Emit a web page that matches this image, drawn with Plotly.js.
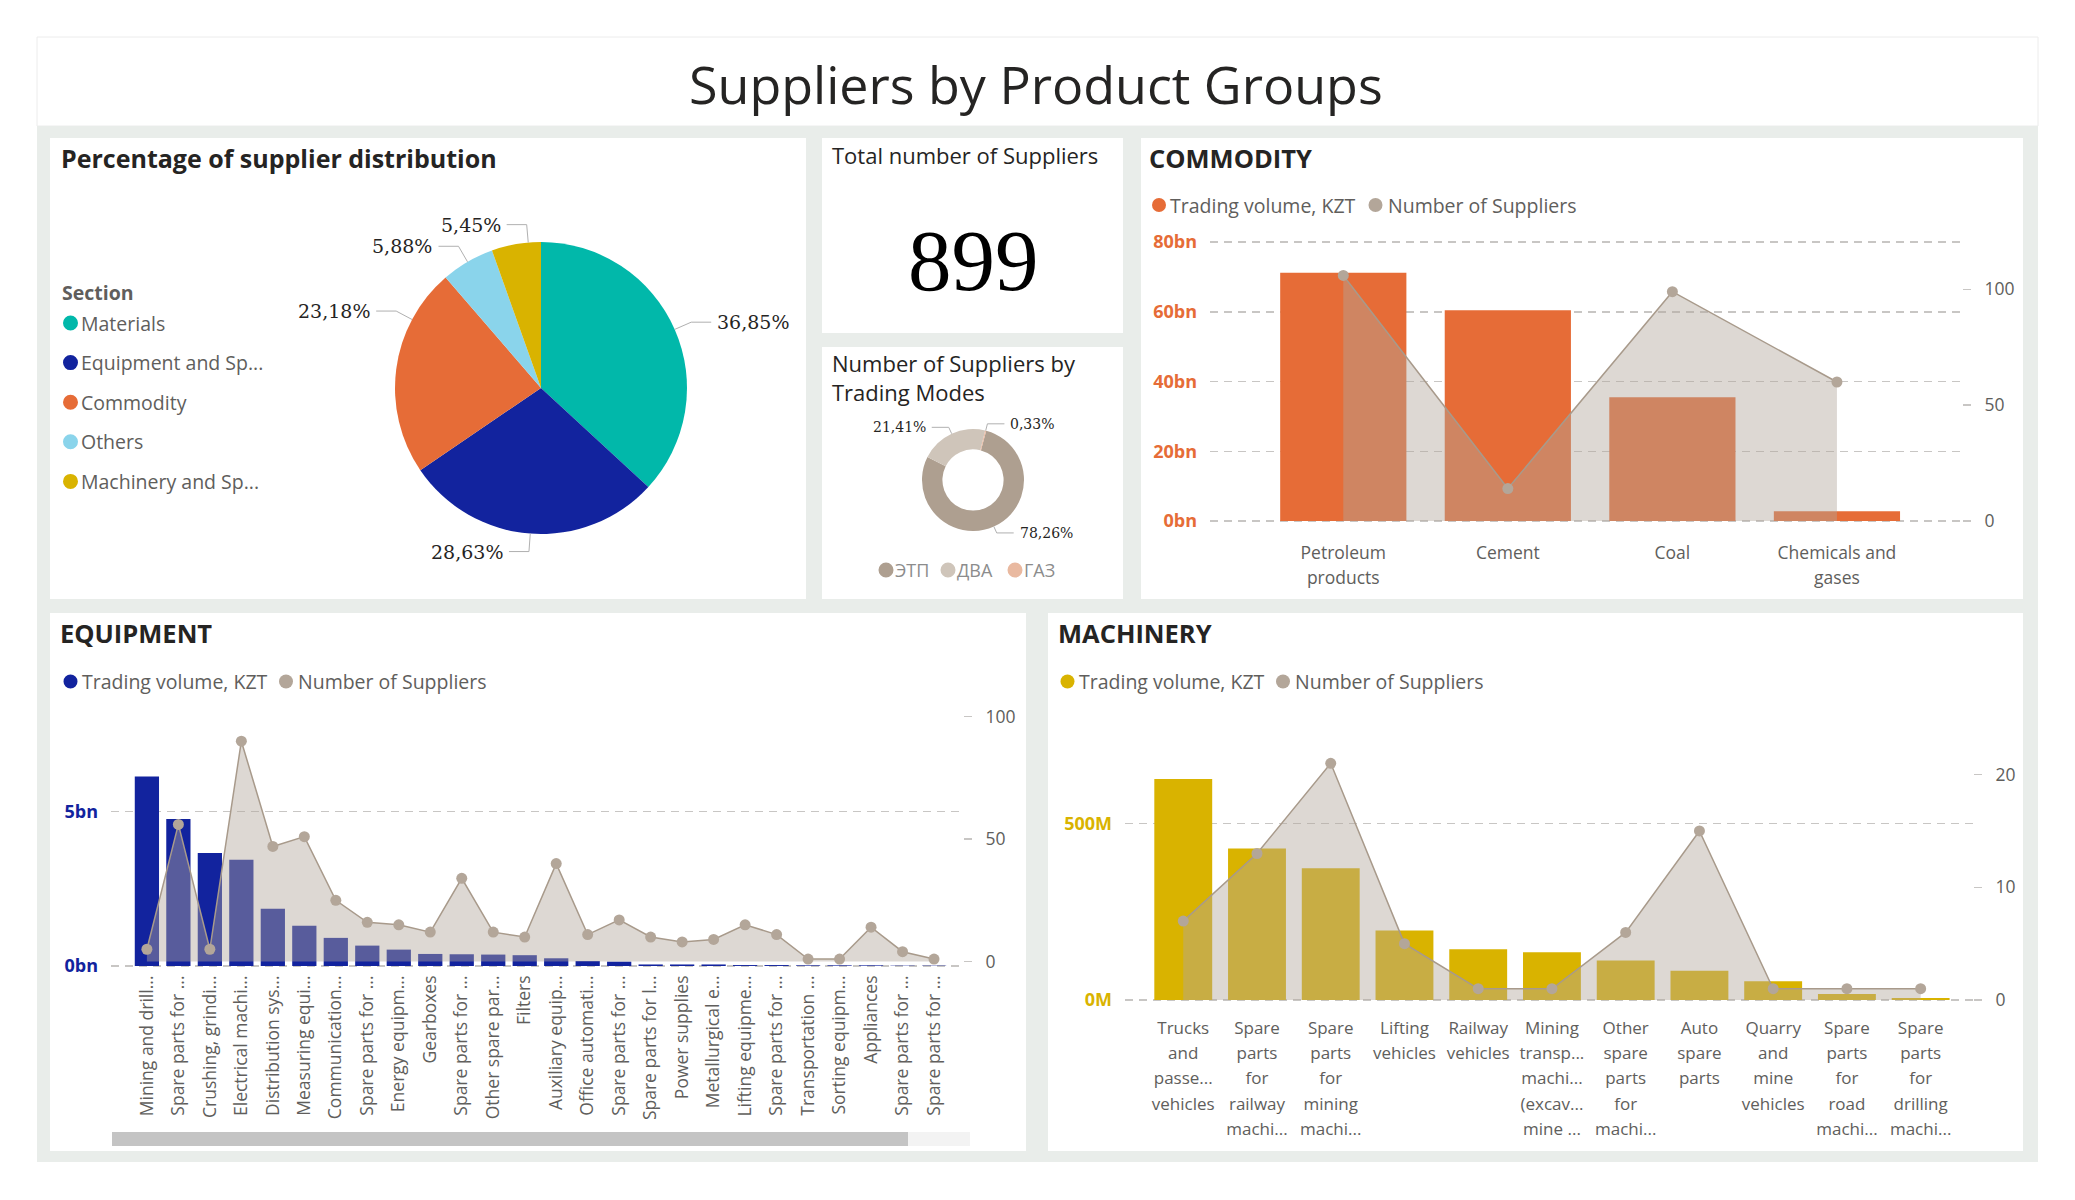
<!DOCTYPE html>
<html><head><meta charset="utf-8">
<script src="https://cdn.plot.ly/plotly-3.0.1.min.js"></script>
<style>html,body{margin:0;padding:0;background:#fff;overflow:hidden}#chart{width:2075px;height:1200px}</style>
</head><body><div id="chart"></div>
<script>
// ---------------- DATA ----------------
const pageTitle = 'Suppliers by Product Groups';
const sectionLabels = ['Materials', 'Equipment and Sp...', 'Commodity', 'Others', 'Machinery and Sp...'];
const sectionShares = [36.85, 28.63, 23.18, 5.88, 5.45];
const totalSuppliers = 899;
const modeLabels = ['ЭТП', 'ДВА', 'ГАЗ'];
const modeShares = [78.26, 21.41, 0.33];
const seriesNames = ['Trading volume, KZT', 'Number of Suppliers'];

const commodityCats = ['Petroleum<br>products', 'Cement', 'Coal', 'Chemicals and<br>gases'];
const commodityVolumeBn = [71.2, 60.4, 35.5, 2.8];
const commoditySuppliers = [106, 14, 99, 60];

const equipmentCats = ['Mining and drill...', 'Spare parts for ...', 'Crushing, grindi...', 'Electrical machi...',
  'Distribution sys...', 'Measuring equi...', 'Communication...', 'Spare parts for ...', 'Energy equipm...',
  'Gearboxes', 'Spare parts for ...', 'Other spare par...', 'Filters', 'Auxiliary equip...', 'Office automati...',
  'Spare parts for ...', 'Spare parts for l...', 'Power supplies', 'Metallurgical e...', 'Lifting equipme...',
  'Spare parts for ...', 'Transportation ...', 'Sorting equipm...', 'Appliances', 'Spare parts for ...',
  'Spare parts for ...'];
const equipmentVolumeBn = [6.13, 4.76, 3.66, 3.44, 1.85, 1.30, 0.91, 0.66, 0.53, 0.39, 0.38, 0.37, 0.35,
  0.25, 0.16, 0.14, 0.05, 0.05, 0.05, 0.03, 0.03, 0.02, 0.02, 0.02, 0.01, 0.01];
const equipmentSuppliers = [5, 56, 5, 90, 47, 51, 25, 16, 15, 12, 34, 12, 10, 40, 11, 17, 10, 8, 9, 15, 11,
  1, 1, 14, 4, 1];

const machineryCats = ['Trucks<br>and<br>passe...<br>vehicles', 'Spare<br>parts<br>for<br>railway<br>machi...',
  'Spare<br>parts<br>for<br>mining<br>machi...', 'Lifting<br>vehicles', 'Railway<br>vehicles',
  'Mining<br>transp...<br>machi...<br>(excav...<br>mine ...', 'Other<br>spare<br>parts<br>for<br>machi...',
  'Auto<br>spare<br>parts', 'Quarry<br>and<br>mine<br>vehicles', 'Spare<br>parts<br>for<br>road<br>machi...',
  'Spare<br>parts<br>for<br>drilling<br>machi...'];
const machineryVolumeM = [626, 429, 373, 197, 144, 135, 112, 83, 53, 17, 6];
const machinerySuppliers = [7, 13, 21, 5, 1, 1, 6, 15, 1, 1, 1];

// ---------------- STYLE ----------------
const W = 2075, H = 1200;
const FONT = 'Open Sans, Noto Sans, sans-serif';
const DARK = '#252423', GRAY = '#605E5C';
const sectionColors = ['#01B8AA', '#12239E', '#E66C37', '#8AD4EB', '#D9B300'];
const modeColors = ['#AE9F90', '#CFC5BA', '#E9B9A0'];
const supFill = 'rgba(178,166,155,0.44)', supLine = '#A89A8B', supMarker = '#B3A699';
const gridC = '#C8C6C4';
// callout placement nudges (degrees) to mimic the reference label layout
const pieLabelNudge = [0, 0, 20.5, 0, 4.8];
const donutLabelNudge = [0, 0, 0];

const px = v => v / W, py = v => 1 - v / H;
const pct = v => v.toFixed(2).replace('.', ',') + '%';
const idx = a => a.map((_, i) => i);
// wrap each line in a smaller span so the line pitch (set by the outer font) is wider
const spaced = (cats, size) => cats.map(c => c.split('<br>').map(l => `<span style="font-size:${size}px">${l}</span>`).join('<br>'));

const shapes = [], annotations = [];
function rect(x0, y0, x1, y1, fill, line) {
  shapes.push({type: 'rect', xref: 'paper', yref: 'paper', layer: 'below', x0: px(x0), x1: px(x1), y0: py(y1), y1: py(y0),
    fillcolor: fill, line: line ? {color: line, width: 1} : {width: 0}});
}
function text(x, y, t, size, color, opts) {
  annotations.push(Object.assign({xref: 'paper', yref: 'paper', x: px(x), y: py(y), text: t, showarrow: false,
    xanchor: 'left', yanchor: 'middle', font: {family: FONT, size: size, color: color}}, opts || {}));
}
function legendItem(cx, tx, y, d, color, label, size, fcolor) {
  shapes.push({type: 'circle', xref: 'paper', yref: 'paper', x0: px(cx - d / 2), x1: px(cx + d / 2),
    y0: py(y + d / 2), y1: py(y - d / 2), fillcolor: color, line: {width: 0}});
  text(tx, y, label, size, fcolor);
}

// backgrounds
rect(37, 37, 2038, 126, '#FFFFFF', '#ECECEC');
rect(37, 126, 2038, 1162, '#E9EDEA');
rect(50, 138, 806, 599, '#FFFFFF');
rect(822, 138, 1123, 333, '#FFFFFF');
rect(822, 347, 1123, 599, '#FFFFFF');
rect(1141, 138, 2023, 599, '#FFFFFF');
rect(50, 613, 1026, 1151, '#FFFFFF');
rect(1048, 613, 2023, 1151, '#FFFFFF');
// scrollbar of equipment chart
rect(908, 1132, 970, 1146, '#F3F3F3');
rect(112, 1132, 908, 1146, '#C4C4C4');

// titles
text(1036, 83, pageTitle, 52, DARK, {xanchor: 'center'});
text(59, 158, '<b>Percentage of supplier distribution</b>', 25, DARK);
text(830, 155, 'Total number of Suppliers', 22, DARK);
text(973, 260, String(totalSuppliers), 87, '#000', {xanchor: 'center', font: {family: 'Liberation Serif, serif', size: 87, color: '#000'}});
text(830, 377, 'Number of Suppliers by<br>Trading Modes', 22, DARK, {align: 'left'});
text(1147, 158, '<b>COMMODITY</b>', 25.5, DARK);
text(58, 633, '<b>EQUIPMENT</b>', 25.5, DARK);
text(1056, 633, '<b>MACHINERY</b>', 25.5, DARK);

// section legend
text(60, 292, '<b>Section</b>', 19.5, GRAY);
sectionLabels.forEach((l, i) => legendItem(70.5, 78.5, 323 + i * 39.6, 15, sectionColors[i], l, 19.5, GRAY));
// trading modes legend
const modeDotX = [886, 948, 1015];
modeLabels.forEach((l, i) => legendItem(modeDotX[i], modeDotX[i] + 7, 570, 15, modeColors[i], l, 18, '#8C8C8C'));
// series legends
function seriesLegend(x1, x2, y, color) {
  legendItem(x1, x1 + 9, y, 14, color, seriesNames[0], 19.5, GRAY);
  legendItem(x2, x2 + 10, y, 14, supMarker, seriesNames[1], 19.5, GRAY);
}
seriesLegend(1159, 1375.5, 205, '#E66C37');
seriesLegend(70.5, 286, 681.5, '#12239E');
seriesLegend(1067.5, 1283, 681.5, '#D9B300');

// pie callouts computed from the data
function callouts(shares, nudge, cx, cy, r, startDeg, radial, horiz, font) {
  const total = shares.reduce((a, b) => a + b, 0);
  let acc = 0;
  shares.forEach((v, i) => {
    const mid = startDeg + (acc + v / 2) / total * 360 + nudge[i]; acc += v;
    const t = mid * Math.PI / 180, sx = Math.sin(t), sy = -Math.cos(t);
    const ex = cx + r * sx, ey = cy + r * sy, qx0 = cx + (r + radial) * sx, qy = cy + (r + radial) * sy;
    const right = sx >= 0, qx = qx0 + (right ? horiz : -horiz);
    shapes.push({type: 'path', xref: 'paper', yref: 'paper', line: {color: '#B0B0B0', width: 1},
      path: `M ${px(ex)} ${py(ey)} L ${px(qx0)} ${py(qy)} L ${px(qx)} ${py(qy)}`});
    annotations.push({xref: 'paper', yref: 'paper', x: px(qx + (right ? 4 : -4)), y: py(qy), text: pct(v), showarrow: false,
      xanchor: right ? 'left' : 'right', yanchor: 'middle', font: font});
  });
}
const pieC = {x: 541, y: 388, r: 146};
const donutC = {x: 973, y: 480, r: 51};
callouts(sectionShares, pieLabelNudge, pieC.x, pieC.y, pieC.r, 0, 18, 20, {family: 'DejaVu Serif, serif', size: 19, color: DARK});
callouts(modeShares, donutLabelNudge, donutC.x, donutC.y, donutC.r, 15, 7, 17, {family: 'DejaVu Serif, serif', size: 14, color: DARK});

// ---------------- TRACES ----------------
const traces = [
  {type: 'pie', values: sectionShares, labels: sectionLabels, sort: false, direction: 'clockwise', rotation: 0,
    marker: {colors: sectionColors, line: {width: 0}}, textinfo: 'none', hoverinfo: 'skip',
    domain: {x: [px(pieC.x - pieC.r), px(pieC.x + pieC.r)], y: [py(pieC.y + pieC.r), py(pieC.y - pieC.r)]}},
  {type: 'pie', values: modeShares, labels: modeLabels, sort: false, direction: 'clockwise', rotation: 15, hole: 0.6,
    marker: {colors: modeColors, line: {width: 0}}, textinfo: 'none', hoverinfo: 'skip',
    domain: {x: [px(donutC.x - donutC.r), px(donutC.x + donutC.r)], y: [py(donutC.y + donutC.r), py(donutC.y - donutC.r)]}}
];
function combo(cats, vol, sup, color, width, xa, ya, ya2) {
  traces.push({type: 'bar', name: seriesNames[0], x: idx(cats), y: vol, xaxis: xa, yaxis: ya, width: width,
    marker: {color: color, line: {width: 0}}, hoverinfo: 'skip'});
  traces.push({type: 'scatter', name: seriesNames[1], mode: 'lines+markers', x: idx(cats), y: sup, xaxis: xa, yaxis: ya2,
    fill: 'tozeroy', fillcolor: supFill, line: {color: supLine, width: 1.5}, marker: {color: supMarker, size: 11},
    hoverinfo: 'skip'});
}
combo(commodityCats, commodityVolumeBn, commoditySuppliers, '#E66C37', 0.767, 'x', 'y', 'y2');
combo(equipmentCats, equipmentVolumeBn, equipmentSuppliers, '#12239E', 0.77, 'x2', 'y3', 'y4');
combo(machineryCats, machineryVolumeM, machinerySuppliers, '#D9B300', 0.785, 'x3', 'y5', 'y6');

// ---------------- AXES ----------------
function xAx(x0, x1, range, cats, ticktext, anchor, extra) {
  return Object.assign({domain: [px(x0), px(x1)], range: range, anchor: anchor, tickmode: 'array', tickvals: idx(cats),
    ticktext: ticktext, showgrid: false, zeroline: false, showline: false, ticks: '', fixedrange: true,
    tickfont: {family: FONT, size: 17, color: GRAY}}, extra || {});
}
// pair of y axes placed by pixel geometry: zero positions, pixels per unit, top of plot
function yPair(L, R, top, anchor, overlay) {
  const bot = Math.max(L.zero, R.zero) + 2, tp = top - 2;
  const left = {domain: [py(bot), py(tp)], range: [(L.zero - bot) / L.unit, (L.zero - tp) / L.unit],
    tickmode: 'array', tickvals: L.ticks, ticktext: L.ticks.map(v => v + L.suffix), anchor: anchor,
    showgrid: true, gridcolor: gridC, griddash: '8px,6px', gridwidth: 1.5, zeroline: false, showline: false,
    ticks: '', ticklabelstandoff: 12, fixedrange: true,
    tickfont: {family: FONT, size: 18, color: L.color, weight: 'bold'}};
  const right = {overlaying: overlay, side: 'right', anchor: anchor, range: [(R.zero - bot) / R.unit, (R.zero - tp) / R.unit],
    tickmode: 'array', tickvals: R.ticks, showgrid: false, zeroline: false, showline: false, ticks: 'outside',
    ticklen: 8, tickwidth: 1.5, tickcolor: gridC, ticklabelstandoff: 10, fixedrange: true,
    tickfont: {family: FONT, size: 17.5, color: GRAY}};
  return [left, right];
}
const [yC, yC2] = yPair({zero: 521, unit: 3.4875, ticks: [0, 20, 40, 60, 80], suffix: 'bn', color: '#E66C37'},
  {zero: 521, unit: 2.3166, ticks: [0, 50, 100]}, 240, 'x', 'y');
const [yE, yE2] = yPair({zero: 966, unit: 30.9, ticks: [0, 5], suffix: 'bn', color: '#12239E'},
  {zero: 961.5, unit: 2.448, ticks: [0, 50, 100]}, 705, 'x2', 'y3');
const [yM, yM2] = yPair({zero: 1000, unit: 0.3532, ticks: [0, 500], suffix: 'M', color: '#D9B300'},
  {zero: 1000, unit: 11.27, ticks: [0, 10, 20]}, 735, 'x3', 'y5');

const layout = {
  width: W, height: H, margin: {l: 0, r: 0, t: 0, b: 0, pad: 0}, autosize: false, showlegend: false,
  paper_bgcolor: '#FFFFFF', plot_bgcolor: 'rgba(0,0,0,0)', separators: ', ', font: {family: FONT},
  xaxis: xAx(1210, 1962, [-0.81, 3.76], commodityCats, spaced(commodityCats, 17.5), 'y',
    {ticklabelstandoff: 15, tickfont: {family: FONT, size: 19.5, color: GRAY}}),
  yaxis: yC, yaxis2: yC2,
  xaxis2: xAx(111, 963, [-1.14, 25.92], equipmentCats, equipmentCats, 'y3',
    {tickangle: -90, tickfont: {family: FONT, size: 17.5, color: GRAY}, ticklabelstandoff: 3}),
  yaxis3: yE, yaxis4: yE2,
  xaxis3: xAx(1125, 1973, [-0.79, 10.71], machineryCats, spaced(machineryCats, 17), 'y5',
    {ticklabelstandoff: 11, tickfont: {family: FONT, size: 19.5, color: GRAY}}),
  yaxis5: yM, yaxis6: yM2,
  shapes: shapes, annotations: annotations
};
Plotly.newPlot('chart', traces, layout, {displayModeBar: false, staticPlot: true});
</script></body></html>
